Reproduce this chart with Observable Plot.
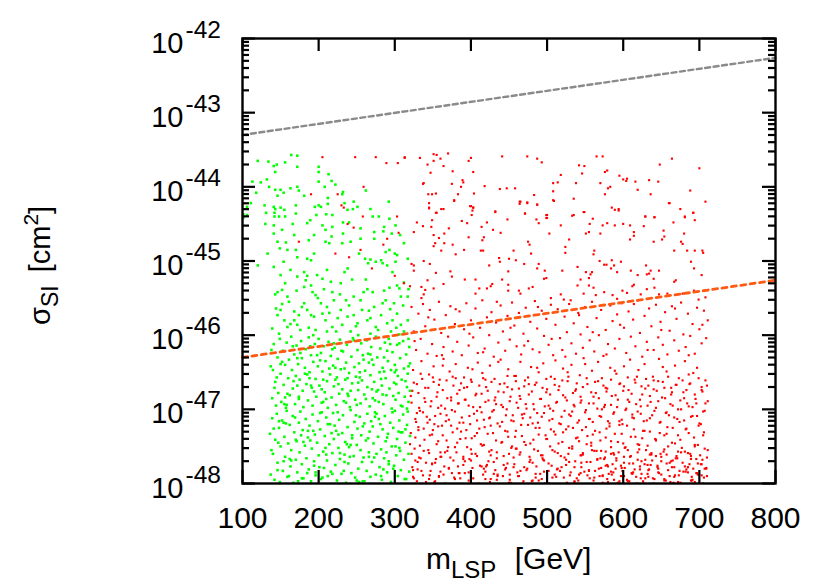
<!DOCTYPE html>
<html><head><meta charset="utf-8">
<script src="https://cdn.jsdelivr.net/npm/d3@7"></script>
<script src="https://cdn.jsdelivr.net/npm/@observablehq/plot@0.6"></script>
<style>html,body{margin:0;padding:0;background:#fff;}</style>
</head><body><div id="chart"></div>
<script>
// ---- axis values ----
const xTicks = [100,200,300,400,500,600,700,800];
const yExponents = [-48,-47,-46,-45,-44,-43,-42];
// ---- limit lines: [m_LSP, log10 sigma] ----
const greyLimit = [[100,-43.30],[800,-42.26]];
const orangeLimit = [[100,-46.30],[800,-45.26]];
// ---- green points [m_LSP GeV, log10 sigma_SI] ----
const greenHigh = [[120,-43.65],[134,-43.66],[141,-43.72],[145,-43.7],[143,-43.8],[156,-43.67],[164,-43.57],[172,-43.58],[172,-43.73],[200,-43.73],[200,-43.8],[213,-43.83],[200,-43.93],[217,-43.92],[222,-43.97],[208,-44.0],[113,-43.93],[124,-43.94],[132,-43.9],[135,-44.0],[143,-44.04],[150,-44.04],[146,-44.12],[154,-44.08],[118,-44.08],[163,-44.02],[172,-44.0],[174,-44.05],[181,-44.12],[111,-44.22],[129,-44.25],[143,-44.3],[150,-44.28],[142,-44.35],[142,-44.4],[131,-44.35],[148,-44.4],[200,-44.25],[203,-44.27],[212,-44.15],[212,-44.23],[232,-44.07],[231,-44.1],[245,-44.3],[210,-44.37],[189,-44.45],[166,-44.5],[130,-44.5],[232,-44.48],[240,-44.48],[101,-44.37],[101,-44.42],[268,-44.3],[285,-44.6],[300,-44.9],[262,-44.05],[292,-44.2],
[106,-44.27],[106,-44.38],[141,-44.27],[141,-44.52],[155,-44.31],[156,-44.4],[170,-44.25],[170,-44.36],[185,-44.49],[195,-44.27],[197,-44.38],[218,-44.38],[218,-44.54],[234,-44.22],[246,-44.2],[238,-44.31],[251,-44.27],[271,-44.4],[279,-44.4],[286,-44.54],[293,-44.43],[141,-44.63],[152,-44.58],[168,-44.65],[194,-44.65],[209,-44.58],[205,-44.52],[232,-44.63],[255,-44.56],[273,-44.61],[301,-44.52],[296,-44.63],
[133,-44.9],[120,-45.06],[146,-44.74],[149,-44.83],[157,-44.75],[159,-44.85],[170,-44.85],[154,-45.01],[172,-44.95],[187,-44.72],[190,-44.99],[209,-44.74],[214,-44.76],[194,-44.9],[231,-44.76],[238,-45.1],[242,-44.74],[253,-44.9],[255,-44.7],[268,-44.98],[273,-44.7],[282,-44.99],[288,-44.88],[293,-44.85],[301,-45.01],[303,-44.92],[307,-44.65],[312,-44.76],[317,-44.97],[261,-44.97],[265,-45.03],[275,-45.01],[284,-45.03],[290,-45.06],[217,-44.67],[185,-44.97],
[141,-45.08],[150,-45.19],[152,-45.39],[146,-45.42],[163,-45.12],[172,-45.21],[181,-45.15],[183,-45.26],[190,-45.33],[192,-45.42],[181,-45.35],[196,-45.46],[205,-45.24],[216,-45.28],[211,-45.12],[218,-45.42],[229,-45.3],[244,-45.25],[264,-45.38],[271,-45.42],[293,-45.36],[303,-45.33],[306,-45.37],[312,-45.29],[317,-45.48],[198,-45.19],
[144,-45.64],[146,-45.73],[150,-45.66],[159,-45.48],[161,-45.55],[168,-45.68],[174,-45.73],[168,-45.8],[172,-45.86],[181,-45.57],[185,-45.66],[190,-45.73],[194,-45.75],[203,-45.57],[205,-45.71],[209,-45.8],[211,-45.62],[218,-45.89],[225,-45.77],[229,-45.66],[231,-45.86],[238,-45.75],[246,-45.73],[251,-45.84],[257,-45.66],[264,-45.8],[268,-45.77],[275,-45.89],[282,-45.73],[290,-45.84],[297,-45.8],[303,-45.71],[308,-45.86],[317,-45.8],[273,-45.62],[284,-45.57],[288,-45.53],[299,-45.57],[308,-45.48],[246,-45.48],[255,-45.53],[220,-45.53],[236,-45.53],[176,-45.93],[155,-45.8],[159,-45.89],[139,-45.91],[196,-45.93],[211,-45.95],[242,-45.95],[268,-45.98],[295,-45.95],[312,-45.95],
[143,-45.45],[152,-45.58],[163,-45.85],[171,-45.4],[178,-45.62],[187,-45.9],[199,-45.5],[207,-45.38],[214,-45.7],[223,-45.95],[228,-45.45],[240,-45.6],[249,-45.88],[259,-45.42],[266,-45.67],[278,-45.93],[286,-45.4],[294,-45.65],[302,-45.9],[311,-45.6],[318,-45.38],[156,-45.3],[185,-45.2],[234,-45.15],[262,-45.25],[297,-45.15],[148,-45.98],[193,-46.0],[252,-46.0],[306,-45.99]];
const greenLow = [[137,-46.42],[139,-46.85],[141,-46.12],[143,-46.63],[144,-46.95],[146,-46.3],[147,-46.78],[149,-46.05],[150,-46.52],[151,-46.9],[153,-46.21],[154,-46.67],[156,-46.4],[157,-46.98],[158,-46.1],[160,-46.58],[161,-46.33],[162,-46.81],[164,-46.02],[165,-46.47],[166,-46.72],[168,-46.26],[169,-46.93],[170,-46.55],[171,-46.14],[173,-46.39],[174,-46.86],[175,-46.6],[177,-46.08],[178,-46.31],[179,-46.75],[180,-46.97],[182,-46.44],[183,-46.19],[184,-46.66],[186,-46.88],[187,-46.03],[188,-46.5],[190,-46.27],[191,-46.71],[192,-46.95],[193,-46.36],[195,-46.12],[196,-46.59],[197,-46.83],[199,-46.42],[200,-46.05],[201,-46.68],[203,-46.24],[204,-46.91],[205,-46.49],[207,-46.15],[208,-46.77],[209,-46.35],[211,-46.62],[212,-46.98],[213,-46.09],[215,-46.53],[216,-46.28],[217,-46.84],[219,-46.41],[220,-46.69],[221,-46.17],[223,-46.94],[224,-46.57],[225,-46.32],[227,-46.79],[228,-46.06],[229,-46.46],[231,-46.73],[232,-46.22],[233,-46.89],[235,-46.6],[236,-46.37],[237,-46.13],[239,-46.82],[240,-46.51],[241,-46.97],[243,-46.29],[244,-46.65],[245,-46.04],[247,-46.43],[248,-46.87],[249,-46.56],[251,-46.2],[252,-46.74],[253,-46.38],[255,-46.92],[256,-46.11],[257,-46.61],[259,-46.33],[260,-46.8],[261,-46.48],[263,-46.07],[264,-46.7],[265,-46.25],[267,-46.96],[268,-46.54],[269,-46.16],[271,-46.85],[272,-46.4],[273,-46.63],[275,-46.02],[276,-46.76],[277,-46.3],[279,-46.9],[280,-46.5],[281,-46.18],[283,-46.68],[284,-46.44],[285,-46.93],[287,-46.1],[288,-46.58],[289,-46.81],[291,-46.35],[292,-46.05],[293,-46.72],[295,-46.47],[296,-46.99],[297,-46.23],[299,-46.64],[300,-46.4],[301,-46.87],[303,-46.13],[304,-46.55],[305,-46.78],[307,-46.31],[308,-46.95],[309,-46.6],[311,-46.08],[312,-46.45],[313,-46.83],[315,-46.26],[316,-46.7],[317,-46.52],[318,-46.9],[319,-46.16],[145,-46.57],[152,-46.36],[159,-46.79],[167,-46.62],[176,-46.24],[185,-46.53],[194,-46.76],[202,-46.34],[210,-46.86],[218,-46.19],[226,-46.66],[234,-46.45],[242,-46.75],[250,-46.94],[258,-46.27],[266,-46.37],[274,-46.88],[282,-46.59],[290,-46.21],[298,-46.82],[306,-46.11],[314,-46.62],[320,-46.38],[320,-46.75],[138,-46.2],[155,-46.93],[172,-46.68],[189,-46.15],[206,-46.6],[222,-46.44],[238,-46.58],[254,-46.5],[270,-46.73],[286,-46.3],[302,-46.47],[318,-46.05],
[136,-47.33],[137,-47.88],[139,-47.12],[140,-47.6],[142,-47.95],[143,-47.41],[145,-47.06],[146,-47.72],[148,-47.25],[149,-47.98],[150,-47.5],[152,-47.15],[153,-47.83],[155,-47.37],[156,-47.64],[158,-47.02],[159,-47.91],[160,-47.46],[162,-47.21],[163,-47.77],[164,-47.55],[166,-47.09],[167,-47.99],[168,-47.31],[170,-47.68],[171,-47.43],[172,-47.85],[174,-47.18],[175,-47.58],[176,-47.03],[178,-47.74],[179,-47.28],[180,-47.93],[182,-47.49],[183,-47.13],[184,-47.66],[186,-47.38],[187,-47.81],[188,-47.22],[190,-47.97],[191,-47.53],[192,-47.07],[194,-47.7],[195,-47.34],[196,-47.89],[198,-47.45],[199,-47.16],[200,-47.62],[202,-47.27],[203,-47.94],[204,-47.04],[206,-47.57],[207,-47.79],[208,-47.36],[210,-47.11],[211,-47.69],[212,-47.9],[214,-47.47],[215,-47.2],[216,-47.84],[218,-47.59],[219,-47.05],[220,-47.4],[222,-47.75],[223,-47.29],[224,-47.96],[226,-47.52],[227,-47.14],[228,-47.67],[230,-47.87],[231,-47.32],[232,-47.08],[234,-47.61],[235,-47.44],[236,-47.99],[238,-47.24],[239,-47.73],[240,-47.51],[242,-47.01],[243,-47.86],[244,-47.39],[246,-47.63],[247,-47.17],[248,-47.92],[250,-47.48],[251,-47.26],[252,-47.8],[254,-47.1],[255,-47.55],[256,-47.35],[258,-47.97],[259,-47.65],[260,-47.19],[262,-47.42],[263,-47.83],[264,-47.06],[266,-47.58],[267,-47.3],[268,-47.91],[270,-47.71],[271,-47.23],[272,-47.46],[274,-47.04],[275,-47.88],[276,-47.6],[278,-47.37],[279,-47.13],[280,-47.78],[282,-47.54],[283,-47.95],[284,-47.27],[286,-47.66],[287,-47.09],[288,-47.43],[290,-47.85],[291,-47.33],[292,-47.7],[294,-47.18],[295,-47.98],[296,-47.5],[298,-47.25],[299,-47.76],[300,-47.02],[302,-47.62],[303,-47.4],[304,-47.9],[306,-47.15],[307,-47.56],[308,-47.82],[310,-47.31],[311,-47.07],[312,-47.68],[314,-47.45],[315,-47.94],[316,-47.21],[318,-47.6],[319,-47.84],[320,-47.36],[141,-47.26],[147,-47.45],[154,-47.7],[161,-47.9],[169,-47.11],[177,-47.35],[185,-47.86],[193,-47.29],[201,-47.78],[209,-47.52],[217,-47.32],[225,-47.04],[233,-47.83],[241,-47.64],[249,-47.08],[257,-47.71],[265,-47.39],[273,-47.65],[281,-47.2],[289,-47.58],[297,-47.04],[305,-47.3],[313,-47.94],[157,-47.19],[173,-47.97],[189,-47.42],[205,-47.92],[221,-47.22],[237,-47.47],[253,-47.98],[269,-47.16],[285,-47.81],[301,-47.5],[317,-47.03],
[138,-47.55],[142,-46.71],[146,-47.82],[150,-46.39],[154,-47.18],[158,-46.94],[162,-47.67],[166,-46.15],[170,-47.41],[174,-46.83],[178,-47.93],[182,-46.52],[186,-47.29],[190,-46.68],[194,-47.76],[198,-46.27],[202,-47.05],[206,-46.9],[210,-47.61],[214,-46.45],[218,-47.87],[222,-46.6],[226,-47.34],[230,-46.21],[234,-47.71],[238,-46.79],[242,-47.48],[246,-46.07],[250,-47.96],[254,-46.57],[258,-47.23],[262,-46.86],[266,-47.64],[270,-46.33],[274,-47.1],[278,-46.74],[282,-47.9],[286,-46.49],[290,-47.38],[294,-46.12],[298,-47.8],[302,-46.66],[306,-47.52],[310,-46.96],[314,-47.27],[318,-46.42],
[140,-46.47],[148,-47.16],[156,-46.84],[164,-47.69],[172,-46.31],[180,-47.44],[188,-46.58],[196,-47.85],[204,-46.73],[212,-47.2],[220,-46.11],[228,-47.59],[236,-46.91],[244,-47.35],[252,-46.64],[260,-47.97],[268,-46.26],[276,-47.06],[284,-46.8],[292,-47.74],[300,-46.5],[308,-47.31],[316,-46.99]];
// ---- red points [m_LSP GeV, log10 sigma_SI] ----
const redHigh = [[313,-43.61],[333,-43.61],[351,-43.56],[355,-43.57],[351,-43.65],[360,-43.62],[364,-43.72],[343,-43.7],[347,-43.81],[337,-43.96],[370,-43.55],[376,-43.79],[375,-43.96],[389,-43.91],[390,-43.94],[387,-44.0],[400,-43.61],[397,-43.65],[403,-43.8],[441,-43.59],[474,-43.59],[487,-43.62],[493,-43.67],[418,-43.99],[438,-44.03],[447,-44.02],[458,-44.02],[349,-44.1],[354,-44.09],[383,-44.1],[378,-44.19],[404,-44.09],[518,-43.84],[514,-43.94],[508,-43.95],[508,-44.06],[538,-43.95],[542,-43.71],[549,-43.72],[546,-43.82],[565,-43.59],[573,-43.59],[576,-43.8],[579,-43.78],[570,-43.95],[580,-44.02],[583,-44.0],[576,-44.1],[595,-43.85],[600,-43.9],[604,-43.92],[605,-43.89],[616,-43.93],[634,-43.91],[646,-43.93],[619,-44.04],[636,-44.1],[483,-44.11],[465,-44.2],[464,-44.23],[474,-44.22],[487,-44.24],[509,-44.19],[535,-44.16],[549,-44.34],[585,-44.28],[589,-44.31],[594,-44.3],[660,-44.22],[345,-44.29],[361,-44.3],[354,-44.35],[399,-44.26],[403,-44.28],[402,-44.32],[432,-44.34],[471,-44.36],[500,-44.38],[499,-44.42],[533,-44.39],[560,-44.43],[629,-44.4],[641,-44.41],[681,-44.41],[692,-44.35],
[205,-43.6],[225,-44.1],[230,-44.25],[233,-44.28],[259,-44.0],[248,-43.6],[275,-43.6],[289,-43.68],[304,-43.68],[313,-43.6],[258,-44.4],[190,-44.1],[303,-44.4],[174,-44.74],[222,-44.9],[238,-44.5],[246,-44.55],[290,-44.7],[305,-44.62],[338,-43.95],[344,-44.1],[345,-44.22],[700,-43.75],[708,-44.2],[688,-44.05],[664,-43.62],[648,-43.7],[675,-44.3],
[345,-44.28],[355,-44.35],[364,-44.3],[378,-44.18],[400,-44.26],[403,-44.28],[401,-44.38],[395,-44.49],[388,-44.46],[432,-44.33],[448,-44.44],[464,-44.2],[471,-44.36],[474,-44.21],[487,-44.24],[486,-44.44],[489,-44.49],[499,-44.38],[500,-44.42],[508,-44.18],[503,-44.63],[518,-44.52],[535,-44.38],[548,-44.34],[556,-44.5],[551,-44.63],[555,-44.61],[570,-44.63],[573,-44.52],[579,-44.49],[589,-44.52],[594,-44.32],[600,-44.5],[609,-44.52],[614,-44.61],[629,-44.4],[627,-44.53],[641,-44.41],[653,-44.59],[661,-44.22],[666,-44.48],[681,-44.4],[692,-44.35],[694,-44.45],[680,-44.63],[329,-44.48],[325,-44.61],[337,-44.53],[349,-44.45],[348,-44.54],[351,-44.65],[365,-44.63],[358,-44.69],[371,-44.56],[421,-44.48],[414,-44.54],[417,-44.68],[429,-44.58],[439,-44.62],
[353,-44.76],[365,-44.76],[361,-44.86],[351,-44.8],[346,-45.04],[338,-45.0],[325,-45.06],[322,-45.04],[376,-44.78],[380,-44.91],[391,-44.85],[397,-44.68],[415,-44.72],[413,-44.86],[416,-44.86],[424,-45.06],[437,-44.96],[438,-45.01],[450,-44.97],[456,-44.86],[459,-44.99],[449,-45.14],[470,-45.04],[475,-44.74],[477,-44.78],[479,-44.9],[487,-45.1],[489,-45.04],[497,-45.13],[499,-45.23],[520,-45.13],[524,-44.81],[524,-44.89],[529,-44.71],[540,-45.08],[551,-45.15],[557,-45.18],[559,-45.15],[561,-44.91],[562,-44.86],[569,-45.0],[575,-45.05],[578,-45.05],[584,-45.1],[585,-44.99],[588,-45.06],[592,-45.15],[597,-45.01],[609,-44.71],[610,-45.13],[614,-44.66],[619,-45.19],[630,-45.06],[631,-45.18],[636,-45.13],[640,-44.74],[640,-45.24],[647,-45.13],[651,-44.71],[654,-44.67],[667,-44.86],[676,-44.74],[678,-44.77],[684,-44.86],[689,-45.01],[694,-44.86],[704,-44.86],[705,-44.89],[703,-45.19],[693,-45.1],
[320,-45.34],[335,-45.35],[340,-45.39],[338,-45.45],[335,-45.5],[343,-45.26],[351,-45.37],[364,-45.31],[373,-45.14],[375,-45.21],[392,-45.25],[406,-45.25],[406,-45.44],[411,-45.37],[421,-45.37],[426,-45.34],[428,-45.31],[441,-45.25],[449,-45.32],[449,-45.4],[463,-45.4],[465,-45.44],[476,-45.37],[481,-45.35],[496,-45.24],[505,-45.5],[518,-45.45],[522,-45.52],[531,-45.53],[540,-45.33],[544,-45.25],[548,-45.44],[555,-45.33],[555,-45.23],[561,-45.36],[564,-45.46],[575,-45.42],[586,-45.46],[592,-45.51],[599,-45.4],[605,-45.43],[612,-45.34],[614,-45.32],[623,-45.45],[631,-45.38],[634,-45.17],[641,-45.36],[647,-45.45],[658,-45.44],[667,-45.28],[669,-45.26],[678,-45.44],[693,-45.4],[699,-45.52],[708,-45.49],[325,-45.13],[354,-45.16],[255,-44.85],[270,-45.1],[300,-45.2],[240,-44.95],[285,-44.78],[312,-45.3]];
const redMid = [[322,-45.62],[325,-45.95],[328,-46.2],[331,-45.71],[334,-46.05],[337,-45.58],[340,-45.88],[343,-46.25],[346,-45.66],[349,-46.12],[352,-45.79],[355,-46.28],[358,-45.55],[361,-45.97],[364,-46.16],[367,-45.73],[370,-46.02],[373,-45.61],[376,-46.22],[379,-45.85],[382,-46.09],[385,-45.68],[388,-46.27],[391,-45.92],[394,-45.57],[397,-46.14],[400,-45.8],[403,-46.03],[406,-45.64],[409,-46.24],[412,-45.9],[415,-45.53],[418,-46.18],[421,-45.76],[424,-46.0],[427,-45.69],[430,-46.29],[433,-45.83],[436,-46.1],[439,-45.6],[442,-45.95],[445,-46.21],[448,-45.74],[451,-46.06],[454,-45.56],[457,-45.87],[460,-46.15],[463,-45.7],[466,-46.26],[469,-45.98],[472,-45.63],[475,-46.08],[478,-45.82],[481,-46.19],[484,-45.54],[487,-45.91],[490,-46.23],[493,-45.67],[496,-46.01],[499,-45.78],[502,-46.13],[505,-45.59],[508,-46.27],[511,-45.86],[514,-45.65],[517,-46.04],[520,-46.2],[523,-45.75],[526,-45.96],[529,-45.58],[532,-46.11],[535,-45.84],[538,-46.25],[541,-45.7],[544,-45.99],[547,-46.17],[550,-45.62],[553,-45.89],[556,-46.07],[559,-45.55],[562,-46.22],[565,-45.77],[568,-46.0],[571,-45.66],[574,-46.28],[577,-45.93],[580,-46.12],[583,-45.6],[586,-45.81],[589,-46.18],[592,-45.72],[595,-46.05],[598,-45.57],[601,-45.9],[604,-46.24],[607,-45.68],[610,-46.02],[613,-45.79],[616,-46.15],[619,-45.53],[622,-45.97],[625,-46.29],[628,-45.74],[631,-46.09],[634,-45.64],[637,-45.88],[640,-46.2],[643,-45.59],[646,-46.03],[649,-45.82],[652,-46.13],[655,-45.69],[658,-46.26],[661,-45.94],[664,-45.61],[667,-46.07],[670,-45.78],[673,-46.21],[676,-45.56],[679,-45.99],[682,-46.16],[685,-45.71],[688,-46.01],[691,-45.85],[694,-46.25],[697,-45.63],[700,-45.92],[703,-46.11],[706,-45.67],[709,-46.04],[711,-45.8],[326,-46.08],[344,-45.76],[362,-46.27],[380,-45.65],[398,-45.98],[416,-46.23],[434,-45.55],[452,-45.9],[470,-46.14],[488,-45.62],[506,-46.05],[524,-46.29],[542,-45.73],[560,-45.96],[578,-46.26],[596,-45.86],[614,-45.58],[632,-46.2],[650,-45.93],[668,-45.64],[686,-46.27],[704,-45.86]];
const redLow = [[321,-46.82],[324,-46.47],[327,-47.13],[329,-46.66],[332,-46.98],[335,-46.35],[337,-47.04],[340,-46.71],[343,-47.18],[345,-46.53],[348,-46.89],[351,-46.42],[353,-47.09],[356,-46.77],[359,-46.6],[361,-46.95],[364,-46.32],[367,-47.16],[369,-46.85],[372,-46.49],[375,-47.01],[377,-46.68],[380,-46.39],[383,-46.92],[385,-46.74],[388,-47.11],[391,-46.57],[393,-46.87],[396,-46.44],[399,-47.2],[401,-46.63],[404,-47.06],[407,-46.79],[409,-46.37],[412,-46.97],[415,-46.51],[417,-47.14],[420,-46.7],[423,-46.88],[425,-46.41],[428,-47.03],[431,-46.59],[433,-46.93],[436,-46.76],[439,-46.33],[441,-47.17],[444,-46.65],[447,-47.0],[449,-46.46],[452,-46.83],[455,-47.08],[457,-46.55],[460,-46.91],[463,-46.72],[465,-46.36],[468,-47.12],[471,-46.61],[473,-46.99],[476,-46.8],[479,-46.43],[481,-47.19],[484,-46.67],[487,-47.05],[489,-46.5],[492,-46.86],[495,-46.38],[497,-46.96],[500,-46.73],[503,-47.15],[505,-46.56],[508,-47.02],[511,-46.34],[513,-46.9],[516,-46.69],[519,-47.1],[521,-46.45],[524,-46.84],[527,-46.62],[529,-47.07],[532,-46.4],[535,-46.94],[537,-46.75],[540,-47.18],[543,-46.54],[545,-46.88],[548,-46.31],[551,-47.01],[553,-46.66],[556,-47.13],[559,-46.48],[561,-46.92],[564,-46.78],[567,-46.36],[569,-47.09],[572,-46.58],[575,-46.97],[577,-46.71],[580,-47.16],[583,-46.44],[585,-46.82],[588,-47.04],[591,-46.52],[593,-46.87],[596,-46.65],[599,-47.2],[601,-46.42],[604,-46.99],[607,-46.74],[609,-46.33],[612,-47.11],[615,-46.6],[617,-46.93],[620,-46.47],[623,-47.06],[625,-46.8],[628,-46.39],[631,-47.15],[633,-46.68],[636,-46.9],[639,-46.56],[641,-47.02],[644,-46.75],[647,-46.32],[649,-47.17],[652,-46.63],[655,-46.85],[657,-46.49],[660,-47.08],[663,-46.71],[665,-46.95],[668,-46.41],[671,-47.13],[673,-46.58],[676,-47.0],[679,-46.77],[681,-46.35],[684,-46.92],[687,-46.66],[689,-47.1],[692,-46.51],[695,-46.86],[697,-46.44],[700,-47.19],[703,-46.7],[705,-47.03],[708,-46.61],[711,-46.89],
[322,-46.91],[325,-46.64],[328,-47.17],[331,-46.78],[333,-47.02],[336,-46.59],[339,-46.85],[342,-47.1],[344,-46.71],[347,-46.96],[350,-46.57],[352,-47.2],[355,-46.83],[358,-46.67],[360,-47.06],[363,-46.74],[366,-46.99],[368,-46.61],[371,-47.14],[374,-46.88],[376,-46.56],[379,-47.03],[382,-46.79],[384,-46.92],[387,-46.65],[390,-47.18],[392,-46.87],[395,-46.7],[398,-47.09],[400,-46.6],[403,-46.97],[406,-46.81],[408,-47.15],[411,-46.68],[414,-47.04],[416,-46.58],[419,-46.9],[422,-46.75],[424,-47.12],[427,-46.63],[430,-47.01],[432,-46.84],[435,-47.19],[438,-46.66],[440,-46.94],[443,-46.77],[446,-47.08],[448,-46.55],[451,-46.89],[454,-46.73],[456,-47.16],[459,-46.62],[462,-46.98],[464,-46.82],[467,-47.07],[470,-46.69],[472,-46.93],[475,-46.57],[478,-47.11],[480,-46.76],[483,-47.0],[486,-46.64],[488,-47.18],[491,-46.86],[494,-46.71],[496,-47.05],[499,-46.59],[502,-46.95],[504,-46.8],[507,-47.13],[510,-46.67],[512,-46.91],[515,-46.74],[518,-47.2],[520,-46.61],[523,-47.02],[526,-46.88],[528,-46.56],[531,-47.09],[534,-46.78],[536,-46.96],[539,-46.65],[542,-47.15],[544,-46.83],[547,-46.7],[550,-47.04],[552,-46.58],[555,-46.92],[558,-46.77],[560,-47.17],[563,-46.63],[566,-46.99],[568,-46.85],[571,-47.1],[574,-46.68],[576,-46.94],[579,-46.72],[582,-47.19],[584,-46.6],[587,-47.06],[590,-46.81],[592,-46.97],[595,-46.66],[598,-47.14],[600,-46.75],[603,-47.01],[606,-46.57],[608,-46.9],[611,-46.79],[614,-47.12],[616,-46.64],[619,-47.03],[622,-46.87],[624,-46.69],[627,-47.16],[630,-46.59],[632,-46.95],[635,-46.82],[638,-47.08],[640,-46.73],[643,-46.98],[646,-46.62],[648,-47.18],[651,-46.84],[654,-46.71],[656,-47.05],[659,-46.56],[662,-46.93],[664,-46.77],[667,-47.11],[670,-46.67],[672,-47.0],[675,-46.88],[678,-46.61],[680,-47.15],[683,-46.74],[686,-46.96],[688,-46.65],[691,-47.09],[694,-46.8],[696,-46.92],[699,-46.58],[702,-47.2],[704,-46.76],[707,-47.02],[710,-46.68],
[323,-46.75],[329,-47.05],[334,-46.52],[340,-46.9],[346,-47.14],[351,-46.63],[357,-46.98],[363,-46.41],[368,-47.08],[374,-46.84],[380,-46.58],[385,-47.18],[391,-46.71],[397,-46.95],[402,-46.46],[408,-47.02],[414,-46.79],[419,-46.6],[425,-47.11],[431,-46.88],[436,-46.36],[442,-46.97],[448,-46.7],[453,-47.15],[459,-46.55],[465,-46.86],[470,-47.06],[476,-46.66],[482,-46.93],[487,-46.44],[493,-47.1],[499,-46.77],[504,-46.99],[510,-46.59],[516,-47.19],[521,-46.81],[527,-46.5],[533,-47.03],[538,-46.73],[544,-46.91],[550,-46.39],[555,-47.13],[561,-46.83],[567,-46.62],[572,-47.0],[578,-46.76],[584,-46.94],[589,-46.48],[595,-47.16],[601,-46.69],[606,-46.87],[612,-47.07],[618,-46.56],[623,-46.96],[629,-46.72],[635,-47.12],[640,-46.61],[646,-46.89],[652,-46.43],[657,-47.04],[663,-46.8],[669,-46.67],[674,-47.17],[680,-46.85],[686,-46.53],[691,-46.97],[697,-47.09],[703,-46.74],[708,-46.92],
[321,-47.32],[323,-47.78],[326,-47.53],[329,-47.97],[331,-47.24],[334,-47.66],[337,-47.89],[339,-47.41],[342,-48.04],[345,-47.59],[347,-47.83],[350,-47.28],[353,-47.72],[355,-47.47],[358,-47.91],[361,-47.64],[363,-47.35],[366,-48.0],[369,-47.56],[371,-47.8],[374,-47.22],[377,-47.69],[379,-47.94],[382,-47.45],[385,-47.86],[387,-47.3],[390,-47.75],[393,-48.02],[395,-47.51],[398,-47.67],[401,-47.39],[403,-47.93],[406,-47.6],[409,-48.05],[411,-47.26],[414,-47.77],[417,-47.48],[419,-47.84],[422,-47.33],[425,-47.98],[427,-47.55],[430,-47.71],[433,-47.42],[435,-47.88],[438,-47.23],[441,-48.01],[443,-47.63],[446,-47.79],[449,-47.37],[451,-47.95],[454,-47.5],[457,-47.74],[459,-47.29],[462,-47.9],[465,-47.58],[467,-48.03],[470,-47.44],[473,-47.82],[475,-47.21],[478,-47.68],[481,-47.96],[483,-47.54],[486,-47.77],[489,-47.34],[491,-47.87],[494,-47.62],[497,-48.0],[499,-47.4],[502,-47.73],[505,-47.27],[507,-47.92],[510,-47.57],[513,-47.81],[515,-47.46],[518,-48.04],[521,-47.31],[523,-47.65],[526,-47.99],[529,-47.52],[531,-47.85],[534,-47.25],[537,-47.7],[539,-47.93],[542,-47.43],[545,-47.78],[547,-47.61],[550,-48.05],[553,-47.36],[555,-47.83],[558,-47.49],[561,-47.96],[563,-47.29],[566,-47.67],[569,-47.9],[571,-47.56],[574,-48.02],[577,-47.38],[579,-47.75],[582,-47.23],[585,-47.88],[587,-47.59],[590,-47.8],[593,-47.44],[595,-47.97],[598,-47.33],[601,-47.72],[603,-47.51],[606,-48.04],[609,-47.64],[611,-47.86],[614,-47.27],[617,-47.91],[619,-47.47],[622,-47.77],[625,-47.39],[627,-48.0],[630,-47.55],[633,-47.82],[635,-47.3],[638,-47.69],[641,-47.94],[643,-47.42],[646,-47.85],[649,-47.6],[651,-48.03],[654,-47.35],[657,-47.73],[659,-47.5],[662,-47.98],[665,-47.25],[667,-47.78],[670,-47.63],[673,-47.89],[675,-47.41],[678,-48.02],[681,-47.57],[683,-47.81],[686,-47.32],[689,-47.67],[691,-47.95],[694,-47.48],[697,-47.86],[699,-47.22],[702,-47.74],[705,-48.0],[707,-47.53],[710,-47.9],
[322,-47.6],[325,-47.93],[327,-47.38],[330,-47.81],[333,-47.49],[336,-48.04],[338,-47.26],[341,-47.72],[344,-47.55],[346,-47.89],[349,-47.34],[352,-47.98],[354,-47.67],[357,-47.43],[360,-47.84],[362,-47.22],[365,-47.77],[368,-48.01],[370,-47.51],[373,-47.65],[376,-47.31],[378,-47.92],[381,-47.58],[384,-47.86],[386,-47.4],[389,-48.05],[392,-47.7],[394,-47.28],[397,-47.96],[400,-47.54],[402,-47.79],[405,-47.36],[408,-47.63],[410,-48.0],[413,-47.47],[416,-47.88],[418,-47.24],[421,-47.75],[424,-47.57],[426,-47.94],[429,-47.32],[432,-47.82],[434,-47.66],[437,-48.03],[440,-47.45],[442,-47.9],[445,-47.29],[448,-47.73],[450,-47.99],[453,-47.52],[456,-47.78],[458,-47.37],[461,-47.85],[464,-47.61],[466,-47.21],[469,-47.97],[472,-47.48],[474,-47.8],[477,-47.64],[480,-48.05],[482,-47.41],[485,-47.87],[488,-47.56],[490,-47.25],[493,-47.94],[496,-47.69],[498,-47.35],[501,-48.02],[504,-47.5],[506,-47.76],[509,-47.3],[512,-47.91],[514,-47.59],[517,-47.83],[520,-47.44],[522,-48.05],[525,-47.68],[528,-47.23],[530,-47.89],[533,-47.53],[536,-47.78],[538,-47.39],[541,-47.96],[544,-47.62],[546,-47.28],[549,-47.84],[552,-47.47],[554,-48.01],[557,-47.71],[560,-47.34],[562,-47.92],[565,-47.56],[568,-47.8],[570,-47.42],[573,-47.99],[576,-47.65],[578,-47.26],[581,-47.87],[584,-47.51],[586,-47.74],[589,-47.33],[592,-48.04],[594,-47.58],[597,-47.9],[600,-47.46],[602,-47.79],[605,-47.22],[608,-47.97],[610,-47.63],[613,-47.85],[616,-47.37],[618,-48.0],[621,-47.54],[624,-47.7],[626,-47.29],[629,-47.93],[632,-47.49],[634,-47.81],[637,-47.61],[640,-48.03],[642,-47.4],[645,-47.76],[648,-47.32],[650,-47.88],[653,-47.57],[656,-47.96],[658,-47.24],[661,-47.72],[664,-47.45],[666,-47.99],[669,-47.66],[672,-47.35],[674,-47.83],[677,-47.52],[680,-48.05],[682,-47.27],[685,-47.78],[688,-47.6],[690,-47.91],[693,-47.38],[696,-47.86],[698,-47.48],[701,-48.01],[704,-47.68],[706,-47.31],[709,-47.8],[711,-47.55],
[324,-47.82],[332,-47.65],[341,-47.98],[349,-47.73],[358,-47.9],[366,-47.58],[375,-48.01],[383,-47.77],[392,-47.86],[400,-47.69],[409,-48.04],[417,-47.8],[426,-47.62],[434,-47.95],[443,-47.75],[451,-47.88],[460,-47.53],[468,-48.0],[477,-47.71],[485,-47.92],[494,-47.66],[502,-47.83],[511,-48.05],[519,-47.78],[528,-47.6],[536,-47.97],[545,-47.72],[553,-47.89],[562,-47.56],[566,-48.03],[571,-47.79],[575,-47.67],[579,-47.94],[584,-47.84],[588,-47.61],[593,-47.99],[597,-47.76],[601,-47.9],[606,-47.55],[610,-48.02],[615,-47.81],[619,-47.68],[623,-47.93],[628,-47.74],[632,-47.87],[637,-47.59],[641,-48.05],[645,-47.78],[650,-47.64],[654,-47.96],[659,-47.82],[663,-47.7],[667,-47.91],[672,-47.57],[676,-48.0],[681,-47.77],[685,-47.85],[689,-47.63],[694,-47.98],[698,-47.73],[703,-47.89],[707,-47.8],
[320,-47.47],[324,-47.91],[327,-47.69],[331,-47.28],[335,-47.83],[338,-47.56],[342,-48.02],[346,-47.35],[349,-47.74],[353,-47.97],[357,-47.23],[360,-47.64],[364,-47.88],[368,-47.42],[371,-47.79],[375,-48.05],[379,-47.51],[382,-47.26],[386,-47.93],[390,-47.67],[393,-47.39],[397,-47.85],[401,-47.6],[404,-48.01],[408,-47.32],[412,-47.76],[415,-47.49],[419,-47.94],[423,-47.7],[426,-47.22],[430,-47.87],[434,-47.58],[437,-48.04],[441,-47.44],[445,-47.81],[448,-47.3],[452,-47.99],[456,-47.65],[459,-47.53],[463,-47.9],[467,-47.36],[470,-47.78],[474,-48.03],[478,-47.46],[481,-47.72],[485,-47.25],[489,-47.96],[492,-47.62],[496,-47.84],[500,-47.4],[503,-48.0],[507,-47.55],[511,-47.34],[514,-47.8],[518,-47.63],[522,-47.92],[525,-47.27],[529,-47.71],[533,-47.5],[536,-47.98],[540,-47.38],[544,-47.86],[547,-47.59],[551,-47.24],[555,-47.82],[558,-47.45],[562,-48.02],[566,-47.68],[569,-47.31],[573,-47.89],[577,-47.57],[580,-47.77],[584,-47.43],[588,-47.95],[591,-47.66],[595,-47.21],[599,-47.83],[602,-47.52],[606,-47.97],[610,-47.37],[613,-47.73],[617,-48.04],[621,-47.48],[624,-47.87],[628,-47.29],[632,-47.75],[635,-47.61],[639,-47.93],[643,-47.41],[646,-47.8],[650,-48.01],[654,-47.54],[657,-47.33],[661,-47.9],[665,-47.69],[668,-47.46],[672,-47.98],[676,-47.58],[679,-47.84],[683,-47.26],[687,-47.74],[690,-47.96],[694,-47.5],[698,-47.88],[701,-47.62],[705,-47.35],[709,-47.79],
[542,-47.88],[545,-47.62],[549,-48.01],[552,-47.71],[556,-47.93],[559,-47.55],[563,-47.83],[566,-48.04],[570,-47.66],[573,-47.9],[577,-47.76],[580,-47.98],[584,-47.6],[587,-47.85],[591,-47.69],[594,-48.02],[598,-47.79],[601,-47.64],[605,-47.95],[608,-47.73],[612,-47.87],[615,-48.05],[619,-47.58],[622,-47.81],[626,-47.97],[629,-47.68],[633,-47.91],[636,-47.75],[640,-48.0],[643,-47.63],[647,-47.86],[650,-47.7],[654,-47.94],[657,-47.61],[661,-48.03],[664,-47.78],[668,-47.89],[671,-47.66],[675,-47.99],[678,-47.72],[682,-47.84],[685,-47.59],[689,-47.96],[692,-47.8],[696,-47.67],[699,-48.02],[703,-47.74],[706,-47.92],[710,-47.65],[330,-47.71],[345,-47.94],[360,-47.58],[375,-47.86],[390,-47.64],[405,-48.01],[420,-47.77],[435,-47.9],[450,-47.6],[465,-47.83],[480,-47.97],[495,-47.68],[510,-47.88],[525,-47.75]];

// ---- build ----
const yTicks = yExponents.map(e => Math.pow(10, e));
const yMinor = yExponents.slice(0, -1).flatMap(e => [2,3,4,5,6,7,8,9].map(k => k * Math.pow(10, e)));
const X = d => d[0], Y = d => Math.pow(10, d[1]);
const W = 830, H = 581, mL = 242, mR = 55, mT = 38, mB = 98;
const fw = W - mL - mR, fh = H - mT - mB;

const svg = Plot.plot({
  width: W, height: H,
  marginLeft: mL, marginRight: mR, marginTop: mT, marginBottom: mB,
  style: {fontFamily: "'Liberation Sans', Arial, Helvetica, sans-serif", background: "#fff", overflow: "visible"},
  x: {type: "linear", domain: [100, 800], axis: null},
  y: {type: "log", domain: [1e-48, 1e-42], axis: null},
  marks: [
    Plot.dot(greenHigh, {x: X, y: Y, r: 1.45, symbol: "square", fill: "#00ff00", clip: true}),
    Plot.dot(greenLow, {x: X, y: Y, r: 1.45, symbol: "square", fill: "#00ff00", clip: true}),
    Plot.dot(redHigh, {x: X, y: Y, r: 1.2, symbol: "square", fill: "#ff0000", clip: true}),
    Plot.dot(redMid, {x: X, y: Y, r: 1.2, symbol: "square", fill: "#ff0000", clip: true}),
    Plot.dot(redLow, {x: X, y: Y, r: 1.2, symbol: "square", fill: "#ff0000", clip: true}),
    Plot.line(greyLimit, {x: X, y: Y, stroke: "#8a8a8a", strokeWidth: 2.4, strokeDasharray: "5,3.5"}),
    Plot.line(orangeLimit, {x: X, y: Y, stroke: "#ff5a14", strokeWidth: 2.8, strokeDasharray: "5,4.5"}),
    // ticks (inward, mirrored)
    Plot.tickX(xTicks, {x: d => d, insetTop: fh - 13, stroke: "#000", strokeWidth: 2.2}),
    Plot.tickX(xTicks, {x: d => d, insetBottom: fh - 13, stroke: "#000", strokeWidth: 2.2}),
    Plot.tickY(yTicks, {y: d => d, insetRight: fw - 13, stroke: "#000", strokeWidth: 2.2}),
    Plot.tickY(yTicks, {y: d => d, insetLeft: fw - 13, stroke: "#000", strokeWidth: 2.2}),
    Plot.tickY(yMinor, {y: d => d, insetRight: fw - 7, stroke: "#000", strokeWidth: 2.2}),
    Plot.tickY(yMinor, {y: d => d, insetLeft: fw - 7, stroke: "#000", strokeWidth: 2.2}),
    Plot.frame({stroke: "#000", strokeWidth: 2.4}),
    // tick labels
    Plot.text(xTicks, {x: d => d, frameAnchor: "bottom", text: d => String(d), dy: 44, lineAnchor: "bottom", fontSize: 30, fill: "#000"}),
    Plot.text(yTicks, {y: d => d, frameAnchor: "left", text: () => "10", textAnchor: "end", dx: -59, dy: 14, lineAnchor: "bottom", fontSize: 29, fill: "#000"}),
    Plot.text(yExponents, {y: e => Math.pow(10, e), frameAnchor: "left", text: e => String(e), textAnchor: "start", dx: -57, dy: -1, lineAnchor: "bottom", fontSize: 24.5, fill: "#000"}),
    // axis labels (sub/superscripts added below)
    Plot.text(["XLABEL"], {frameAnchor: "bottom", text: d => d, textAnchor: "start", dx: -83, dy: 85, lineAnchor: "bottom", fontSize: 30, fill: "#000"}),
    Plot.text(["YLABEL"], {frameAnchor: "left", text: d => d, rotate: -90, textAnchor: "start", dx: -193, dy: 64, lineAnchor: "bottom", fontSize: 29, fill: "#000"})
  ]
});

d3.select(svg).selectAll("text").each(function () {
  const t = d3.select(this);
  if (this.textContent === "XLABEL") {
    t.text(null);
    t.append("tspan").text("m");
    t.append("tspan").attr("font-size", 24).attr("dy", 9).text("LSP");
    t.append("tspan").attr("dy", -9).attr("dx", 10).text(" [GeV]");
  } else if (this.textContent === "YLABEL") {
    t.text(null);
    t.append("tspan").text("σ");
    t.append("tspan").attr("font-size", 23).attr("dy", 8).text("SI");
    t.append("tspan").attr("dy", -8).attr("dx", 5).text(" [cm");
    t.append("tspan").attr("font-size", 21).attr("dy", -12).text("2");
    t.append("tspan").attr("dy", 12).text("]");
  }
});
document.getElementById("chart").appendChild(svg);
</script>
</body></html>
